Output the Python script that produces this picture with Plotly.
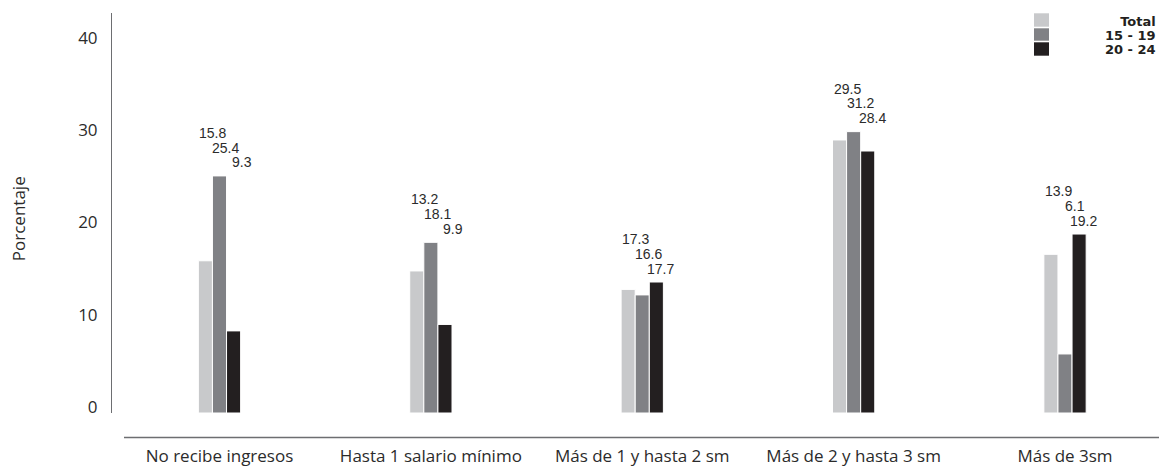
import plotly.graph_objects as go

categories = ["No recibe ingresos", "Hasta 1 salario mínimo", "Más de 1 y hasta 2 sm",
              "Más de 2 y hasta 3 sm", "Más de 3sm"]
series_names = ["Total", "15 - 19", "20 - 24"]
# bar heights as drawn
total_vals = [16.5, 15.4, 13.4, 29.6, 17.2]
g1519_vals = [25.7, 18.5, 12.8, 30.5, 6.4]
g2024_vals = [8.9, 9.6, 14.2, 28.4, 19.4]
# value labels as printed
total_labels = ["15.8", "13.2", "17.3", "29.5", "13.9"]
g1519_labels = ["25.4", "18.1", "16.6", "31.2", "6.1"]
g2024_labels = ["9.3", "9.9", "17.7", "28.4", "19.2"]
y_ticks = [0, 10, 20, 30, 40]

colors = ["#c8c9cb", "#808185", "#231f20"]
text_color = "#2b2b2b"
FONT = "Open Sans"
LABEL_FONT = "Liberation Sans"

xs = list(range(len(categories)))
values = [total_vals, g1519_vals, g2024_vals]
labels = [total_labels, g1519_labels, g2024_labels]

fig = go.Figure()
for name, vals, col in zip(series_names, values, colors):
    fig.add_trace(go.Bar(x=xs, y=vals, name=name,
                         marker=dict(color=col, line=dict(color="white", width=1)),
                         showlegend=False, hoverinfo="skip"))

BARGAP = 0.8
bar_w = (1 - BARGAP) / 3
LINE_STEP = 14.7
xshifts = [22, 21, 19]
annotations = []
for i in xs:
    top = max(v[i] for v in values)
    for k in range(3):
        annotations.append(dict(
            x=i + (k - 1) * bar_w, y=top, xref="x", yref="y",
            text=labels[k][i], showarrow=False, xanchor="right", yanchor="middle",
            xshift=xshifts[k], yshift=13.5 + (2 - k) * LINE_STEP, borderpad=0,
            font=dict(family=LABEL_FONT, size=14, color=text_color)))

# y title
annotations.append(dict(x=-0.0898, y=0.487, xref="paper", yref="paper", text="Porcentaje",
                        textangle=-90, showarrow=False, xanchor="center", yanchor="middle",
                        font=dict(family=FONT, size=17, color=text_color)))

# legend (manual)
L, T, PW, PH = 112, 13, 1047, 400
def px2x(p):
    return (p - L) / PW
def py2y(p):
    return (T + PH - p) / PH

shapes = []
rows = [(13.3, 26.7), (28.3, 40.7), (42.3, 55.7)]
for (y0, y1), col in zip(rows, colors):
    shapes.append(dict(type="rect", xref="paper", yref="paper", x0=px2x(1034), x1=px2x(1049),
                       y0=py2y(y1), y1=py2y(y0), fillcolor=col, line=dict(width=0)))
leg_text = "<br>".join("<span style='font-size:13px'><b>%s</b></span>" % n for n in series_names)
annotations.append(dict(x=px2x(1157), y=py2y(35), xref="paper", yref="paper",
                        text=leg_text, showarrow=False, xanchor="right", align="right",
                        yanchor="middle", borderpad=0,
                        font=dict(family="DejaVu Sans", size=14 / 1.3, color="#231f20")))

# category baseline
shapes.append(dict(type="line", xref="paper", yref="paper", x0=px2x(124), x1=1,
                   y0=py2y(437.5), y1=py2y(437.5), line=dict(color="#6d6e71", width=1.5)))

x0_range = -(219.5 - L) / 211.4
x1_range = 4 + (L + PW - 1065) / 211.4

fig.update_layout(
    width=1159, height=466,
    margin=dict(l=L, r=0, t=T, b=466 - T - PH, pad=0),
    paper_bgcolor="white", plot_bgcolor="white",
    barmode="group", bargap=BARGAP, bargroupgap=0,
    xaxis=dict(range=[x0_range, x1_range], tickmode="array", tickvals=xs, ticktext=categories,
               showgrid=False, zeroline=False, showline=False, ticks="",
               ticklabelstandoff=31,
               tickfont=dict(family=FONT, size=17, color=text_color)),
    yaxis=dict(range=[0, PH / 9.225], tickmode="array", tickvals=y_ticks,
               showgrid=False, zeroline=False, showline=True, linecolor="#6d6e71", linewidth=1,
               ticks="", ticklabelstandoff=10, ticklabelshift=-6,
               tickfont=dict(family=FONT, size=17, color=text_color)),
    annotations=annotations, shapes=shapes,
    font=dict(family=FONT, color=text_color),
)

fig.write_html("out.html", config={"displayModeBar": False})
